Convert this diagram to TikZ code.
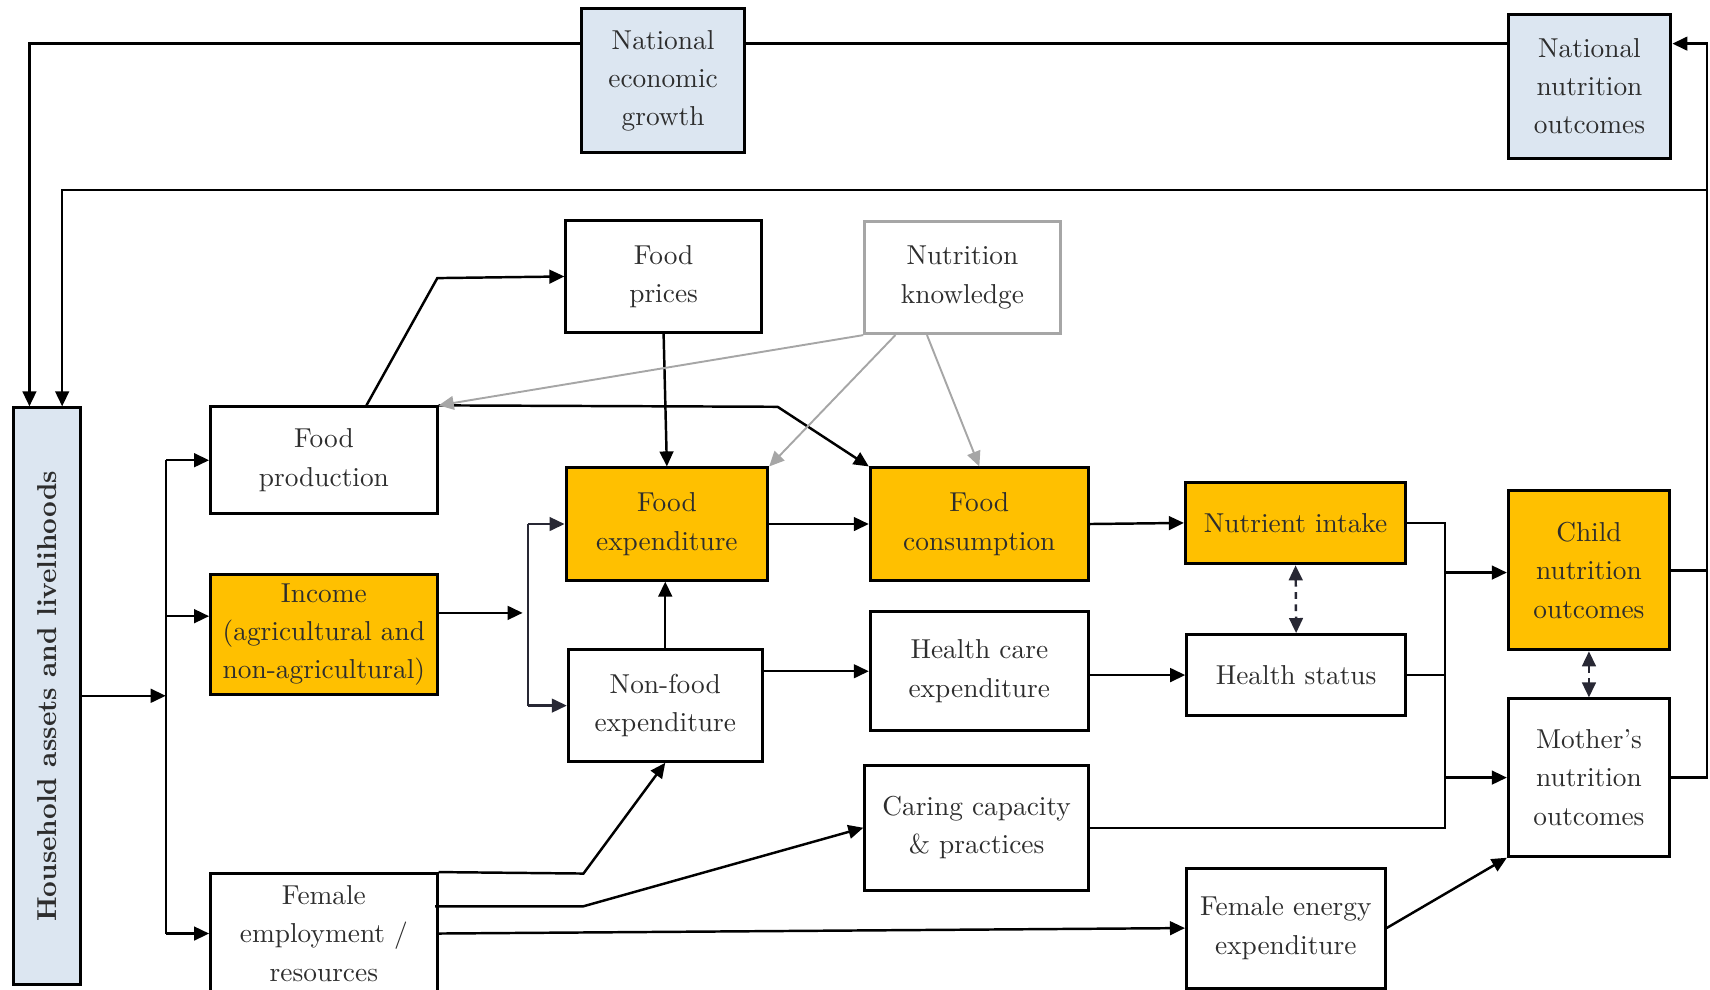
\documentclass[tikz,border=0pt]{standalone}
\usepackage{tikz}
\usetikzlibrary{arrows.meta}

\definecolor{keygold}{RGB}{255,192,0}
\definecolor{natblue}{RGB}{220,230,241}
\definecolor{softgray}{RGB}{166,166,166}
\definecolor{inkgray}{RGB}{45,45,45}
\definecolor{slate}{RGB}{40,40,52}

\begin{document}
\begin{tikzpicture}[x=0.014cm, y=-0.014cm, line join=miter, >={Triangle[length=5.5pt, width=5pt]},
    box/.style={draw, line width=1.1pt, align=center, inner sep=1pt, text=inkgray, font=\fontsize{10}{14}\selectfont},
    key/.style={box, fill=keygold},
    natl/.style={box, fill=natblue},
    link/.style={line width=0.9pt},
    hint/.style={line width=0.7pt, softgray},
    twoway/.style={line width=0.9pt, slate, dash pattern=on 2.5pt off 2pt, <->}]

    \useasboundingbox (0,0) rectangle (1568,907);

    % National level
    \node[natl, minimum width=2.10cm, minimum height=1.85cm] (neg) at (608,74) {National\\economic\\growth};
    \node[natl, minimum width=2.09cm, minimum height=1.85cm] (nno) at (1457.5,79) {National\\nutrition\\outcomes};

    % Household
    \node[natl, minimum width=0.87cm, minimum height=7.41cm] (hh) at (43,638.5) {};
    \node[rotate=90, text=inkgray, font=\fontsize{10}{12}\selectfont\bfseries] (hhtext) at (hh) {Household assets and livelihoods};

    % Pathway boxes
    \node[box, minimum width=2.51cm, minimum height=1.44cm] (fp) at (608.5,253.5) {Food\\prices};
    \node[box, draw=softgray, minimum width=2.51cm, minimum height=1.44cm] (nk) at (882.5,254.5) {Nutrition\\knowledge};
    \node[box, minimum width=2.91cm, minimum height=1.37cm] (fprod) at (297,422) {Food\\production};
    \node[key, minimum width=2.91cm, minimum height=1.54cm] (inc) at (297,582) {Income\\(agricultural and\\non-agricultural)};
    \node[box, minimum width=2.91cm, minimum height=1.54cm] (fem) at (297,856) {Female\\employment /\\resources};
    \node[key, minimum width=2.59cm, minimum height=1.44cm] (fexp) at (611.5,480.5) {Food\\expenditure};
    \node[box, minimum width=2.49cm, minimum height=1.43cm] (nfexp) at (610,647) {Non-food\\expenditure};
    \node[key, minimum width=2.80cm, minimum height=1.44cm] (fcons) at (898,480.5) {Food\\consumption};
    \node[box, minimum width=2.80cm, minimum height=1.53cm] (hce) at (898,615.5) {Health care\\expenditure};
    \node[box, minimum width=2.87cm, minimum height=1.60cm] (ccp) at (895.5,759) {Caring capacity\\\& practices};
    \node[key, minimum width=2.83cm, minimum height=1.05cm] (ni) at (1188,479.5) {Nutrient intake};
    \node[box, minimum width=2.81cm, minimum height=1.04cm] (hs) at (1188.5,619) {Health status};
    \node[box, minimum width=2.55cm, minimum height=1.54cm] (fee) at (1179,851) {Female energy\\expenditure};
    \node[key, minimum width=2.07cm, minimum height=2.04cm] (cno) at (1457,523) {Child\\nutrition\\outcomes};
    \node[box, minimum width=2.07cm, minimum height=2.02cm] (mno) at (1457,713) {Mother’s\\nutrition\\outcomes};

    % Feedback loops
    \coordinate (fbtop) at (27,40);
    \coordinate (fbmid) at (57,174);
    \coordinate (fbright) at (1565,40);
    \draw[link] (nno.west |- fbtop) -- (neg.east |- fbtop);
    \draw[link, ->] (neg.west |- fbtop) -- (fbtop) -- (fbtop |- hh.north);
    \draw[link, ->] (mno.east) -- (fbright |- mno.east) -- (fbright) -- (nno.east |- fbright);
    \draw[link] (cno.east) -- (fbright |- cno.east);
    \draw[link, ->] (fbright |- fbmid) -- (fbmid) -- (fbmid |- hh.north);

    % Household split
    \coordinate (hsplit) at (152,638);
    \draw[link, ->] (hh.east |- hsplit) -- (hsplit);
    \draw[link] (hsplit |- fprod.west) -- (hsplit |- fem.west);
    \draw[link, ->] (hsplit |- fprod.west) -- (fprod.west);
    \draw[link, ->] (hsplit |- 0,565) -- (inc.west |- 0,565);
    \draw[link, ->] (hsplit |- fem.west) -- (fem.west);

    % Income split
    \coordinate (isplit) at (484,562);
    \draw[link, ->] (inc.east |- isplit) -- ++(77,0);
    \draw[link, slate] (isplit |- fexp.west) -- (isplit |- nfexp.west);
    \draw[link, slate, ->] (isplit |- fexp.west) -- (fexp.west);
    \draw[link, slate, ->] (isplit |- nfexp.west) -- (nfexp.west);

    % Food production
    \draw[link, ->] (336,0 |- fprod.north) -- (401,255) -- (fp.west);
    \draw[link, ->] (fprod.north east) -- (713,373) -- (fcons.north west);

    % Expenditure and consumption
    \draw[link, ->] (fp.south) -- (fexp.north);
    \draw[link, ->] (nfexp.north) -- (nfexp.north |- fexp.south);
    \draw[link, ->] (fexp.east) -- (fcons.west);
    \draw[link, ->] (nfexp.east |- hce.west) -- (hce.west);
    \draw[link, ->] (fcons.east) -- (ni.west);
    \draw[link, ->] (hce.east |- hs.west) -- (hs.west);
    \draw[twoway] (ni.south) -- (hs.north);
    \draw[twoway] (cno.south) -- (mno.north);

    % Towards outcomes
    \coordinate (join) at (1325,483);
    \draw[link] (ni.east) -- (join |- ni.east) -- (join |- ccp.east) -- (ccp.east);
    \draw[link] (hs.east) -- (join |- hs.east);
    \draw[link, ->] (join |- 0,525) -- (cno.west |- 0,525);
    \draw[link, ->] (join |- mno.west) -- (mno.west);

    % Female employment
    \draw[link, ->] (fem.north east) -- (535,801) -- (nfexp.south);
    \draw[link, ->] (399,831) -- (535,831) -- (ccp.west);
    \draw[link, ->] (fem.east) -- (fee.west);
    \draw[link, ->] (fee.east) -- (mno.south west);

    % Nutrition knowledge
    \draw[hint, ->] (nk.south west) -- (fprod.north east);
    \draw[hint, ->] (821,0 |- nk.south) -- (fexp.north east);
    \draw[hint, ->] (850,0 |- nk.south) -- (fcons.north);
\end{tikzpicture}
\end{document}
